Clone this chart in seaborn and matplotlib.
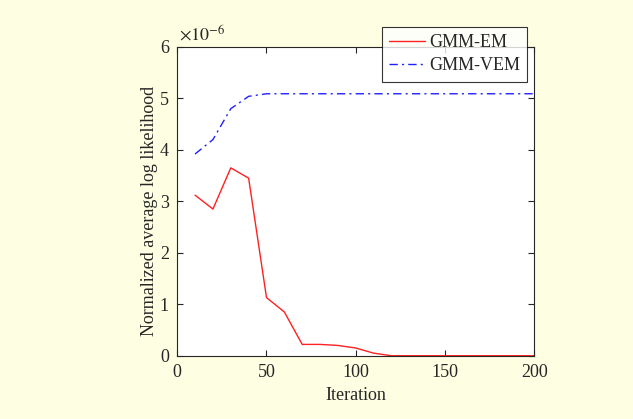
import numpy as np
import pandas as pd
import matplotlib
matplotlib.use("Agg")
import matplotlib.pyplot as plt
import seaborn as sns

iteration = [10, 20, 30, 40, 50, 60, 70, 80, 90, 100, 110, 120, 130, 140, 150, 160, 170, 180, 190, 200]
gmm_em = [3.12, 2.85, 3.65, 3.45, 1.13, 0.85, 0.22, 0.22, 0.20, 0.15, 0.05, 0.0, 0.0, 0.0, 0.0, 0.0, 0.0, 0.0, 0.0, 0.0]
gmm_vem = [3.92, 4.20, 4.80, 5.04, 5.09, 5.09, 5.09, 5.09, 5.09, 5.09, 5.09, 5.09, 5.09, 5.09, 5.09, 5.09, 5.09, 5.09, 5.09, 5.09]

df = pd.DataFrame({'Iteration': iteration, 'GMM-EM': gmm_em, 'GMM-VEM': gmm_vem})

sns.set_style('ticks')
plt.rcParams['font.family'] = ['Liberation Serif', 'DejaVu Serif']
plt.rcParams['mathtext.fontset'] = 'stix'

bg = '#FEFEE2'
fig = plt.figure(figsize=(6.33, 4.19), dpi=100, facecolor=bg)
ax = fig.add_axes([0.28, 0.151, 0.564, 0.737])

sns.lineplot(x='Iteration', y='GMM-EM', data=df, ax=ax, color='#ff2020', lw=1.0, label='GMM-EM')
sns.lineplot(x='Iteration', y='GMM-VEM', data=df, ax=ax, color='#2020ff', lw=1.0,
             linestyle=(0, (6, 3, 1.5, 3)), label='GMM-VEM')

ax.set_xlim(0, 200)
ax.set_ylim(0, 6)
ax.set_xticks([0, 50, 100, 150, 200])
ax.set_yticks([0, 1, 2, 3, 4, 5, 6])
ax.tick_params(direction='in', length=4, labelsize=13, top=True, right=True, labeltop=False, labelright=False, pad=6)
for s in ax.spines.values():
    s.set_linewidth(0.8)
ax.set_xlabel('Iteration', fontsize=13)
ax.set_ylabel('Normalized average log likelihood', fontsize=13)
ax.yaxis.set_label_coords(-0.055, 0.47)
fig.text(0.283, 0.905, r'$\times10^{-6}$', fontsize=13)

leg = ax.legend(loc='upper right', bbox_to_anchor=(0.833, 0.936), bbox_transform=fig.transFigure,
                fontsize=13, frameon=True, fancybox=False, edgecolor='black',
                borderpad=0.4, labelspacing=0.35, handlelength=2.0, handletextpad=0.2,
                borderaxespad=0)
leg.get_frame().set_linewidth(0.8)

plt.savefig('out.png', dpi=100, facecolor=bg)
